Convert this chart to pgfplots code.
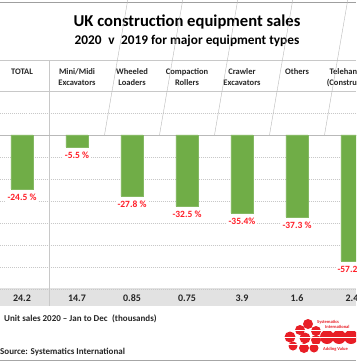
\documentclass[border=0pt]{standalone}
\usepackage{pgfplots}
\pgfplotsset{compat=1.18}
\usepackage{pgfplotstable}
\usepackage{fontspec}
\setmainfont{Carlito}
\definecolor{barg}{RGB}{112,173,71}
\definecolor{labred}{RGB}{255,30,40}
\definecolor{logored}{RGB}{232,30,38}
\definecolor{band}{RGB}{226,226,226}
\definecolor{gline}{RGB}{200,200,200}

\pgfplotstableread{
x y lab
0 -24.5 {-24.5 \%}
1 -5.5 {-5.5 \%}
2 -27.8 {-27.8 \%}
3 -32.5 {-32.5 \%}
4 -35.4 {-35.4\%}
5 -37.3 {-37.3 \%}
6 -57.2 {-57.2 \%}
}\changes

\pgfplotstableread{
x y v
0 -74 24.2
1 -74 14.7
2 -74 0.85
3 -74 0.75
4 -74 3.9
5 -74 1.6
6 -74 2.4
}\units

\begin{document}
\begin{tikzpicture}[x=1pt,y=1pt]
\useasboundingbox (0,0) rectangle (356,-364);
\clip (0,0) rectangle (356,-364);
\fill[white] (0,0) rectangle (356,-364);
\draw[gray!75, line width=1.2pt] (0,-2.5) -- (356,-2.5);
\node[font=\fontsize{16.6}{19}\selectfont\bfseries] at (187,-22) {UK construction equipment sales};
\node[font=\fontsize{13.3}{15}\selectfont\bfseries] at (187,-41) {2020\enspace v\enspace 2019 for major equipment types};
\fill[band] (0,-288) rectangle (356,-306);
\draw[gline] (0,-60.5) -- (356,-60.5);
\draw[gline] (0,-91) -- (356,-91);
\draw[gline] (49.5,-60.5) -- (49.5,-306);
\begin{axis}[at={(-5.5pt,-91pt)}, anchor=north west,
  width=385pt, height=198pt, scale only axis,
  xmin=-0.5, xmax=6.5, ymin=-70, ymax=20, clip=false,
  axis line style={draw=none}, major tick length=0pt,
  ytick={-70,-60,...,10}, yticklabels={},
  ymajorgrids, grid style={gline, dash pattern=on 1pt off 1pt},
  extra y ticks={0}, extra y tick labels={},
  extra y tick style={grid style={solid, gray!55, dash pattern=}},
  xtick={0,...,6},
  xticklabels={TOTAL, Mini/Midi\\Excavators, Wheeled\\Loaders, Compaction\\Rollers, Crawler\\Excavators, Others, Telehandlers\\(Construction)},
  xticklabel pos=upper,
  xticklabel style={align=center, anchor=north, yshift=22.5pt, inner sep=0pt,
    font=\fontsize{8.5}{11}\selectfont\bfseries, text=black!85},
]
\addplot[ybar, bar width=22pt, bar shift=0pt, fill=barg, draw=barg!85!white,
  point meta=explicit symbolic, nodes near coords,
  every node near coord/.style={font=\fontsize{9.5}{11}\selectfont\bfseries,
    text=labred, fill=white, inner sep=1.5pt, anchor=north, yshift=-3pt}]
  table[x=x, y=y, meta=lab] {\changes};
\addplot[only marks, mark=none, point meta=explicit symbolic, nodes near coords,
  every node near coord/.style={font=\fontsize{10}{12}\selectfont\bfseries,
    text=black!85, anchor=center}]
  table[x=x, y=y, meta=v] {\units};
\pgfplotsinvokeforeach{1.5,2.5,3.5,4.5,5.5}{
  \draw[gray!55] (axis cs:#1,0) -- ++(0,-3pt);
}
\end{axis}
\node[anchor=west, font=\fontsize{9}{11}\selectfont\bfseries, text=black!85, inner sep=0pt] at (4,-319) {Unit sales 2020 -- Jan to Dec\enspace(thousands)};
\node[anchor=west, font=\fontsize{9}{11}\selectfont\bfseries, text=black!85, inner sep=0pt] at (0,-352) {Source: Systematics International};
% logo
\begin{scope}[logored]
\fill (308,-324) circle (5);
\fill (300,-330) circle (5);
\fill (316,-331) circle (5);
\fill (290,-337) circle (5.5);
\fill (305,-338) circle (5.5);
\fill (316,-340) circle (5);
\fill (327,-337) circle (7);
\fill (339,-337) circle (7);
\fill (351,-337) circle (7);
\fill (293,-346) circle (4.5);
\fill (304,-348) circle (5);
\fill (314,-348) circle (4.5);
\end{scope}
\draw[white, line width=0.8pt] (282,-330) -- (356,-330);
\draw[white, line width=0.8pt] (282,-337) -- (356,-337);
\draw[white, line width=0.8pt] (282,-344) -- (356,-344);
\node[anchor=west, text=logored, font=\fontsize{4.5}{5}\selectfont\bfseries, inner sep=0pt] at (317,-322) {Systematics};
\node[anchor=west, text=logored, font=\fontsize{4.5}{5}\selectfont\bfseries, inner sep=0pt] at (325,-327) {International};
\node[anchor=west, text=logored, font=\fontsize{4.5}{5}\selectfont\bfseries, inner sep=0pt] at (323,-349) {Adding Value};
\draw[gray!70, line width=1.5pt] (0,-360.5) -- (356,-360.5);
\end{tikzpicture}
\end{document}
